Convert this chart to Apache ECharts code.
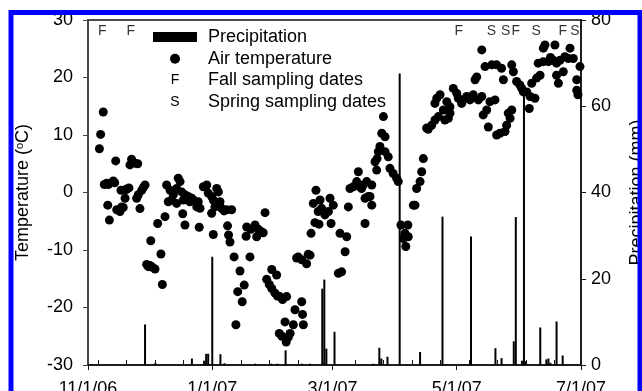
<!DOCTYPE html>
<html>
<head>
<meta charset="utf-8">
<script src="https://cdn.jsdelivr.net/npm/echarts@6/dist/echarts.min.js"></script>
<style>
  html, body { margin: 0; padding: 0; background: #fff; }
  #chart { width: 642px; height: 391px; }
</style>
</head>
<body>
<div id="chart"></div>
<script>
// x axis is in days since 11/1/06
const tickDays = [0, 61, 120, 181, 242];
const tickLabels = ['11/1/06', '1/1/07', '3/1/07', '5/1/07', '7/1/07'];
const minorTickDays = [5, 19, 33, 47, 61, 75, 89, 103, 117, 131, 145, 159, 173, 187, 201, 215, 229];

// daily precipitation (mm)
const precipDays = [28, 33, 51, 57, 58, 59, 61, 65, 67, 82, 90, 93, 97, 105, 109, 115, 116, 117, 121,
  140, 143, 144, 147, 153, 163, 174, 188, 200, 203, 209, 210, 213, 214, 215, 222, 225, 226, 227, 230, 233];
const precipMm = [9.4, 0.4, 1.5, 1.0, 2.6, 2.6, 25.1, 2.5, 0.4, 0.3, 0.3, 0.3, 3.4, 0.3, 0.3, 17.7, 19.8, 3.8, 7.7,
  0.3, 4.0, 1.5, 1.9, 67.6, 3.0, 34.4, 29.8, 3.9, 1.6, 5.5, 34.3, 1.0, 62.6, 0.9, 8.7, 1.3, 1.5, 0.5, 10.1, 2.2];

// air temperature (deg C), [day, value]
const airTemp = [
  [5.6, 7.6], [6.2, 10.1], [7.5, 14.0], [8.0, 1.4], [9.2, 1.6], [10.0, 1.4], [9.7, -2.2], [10.5, -4.8],
  [12.4, 2.0], [13.1, 1.7], [13.6, 5.5], [14.1, -3.0], [15.7, -3.3], [16.5, -2.5], [17.3, -2.6], [18.2, -1.0],
  [16.2, 0.4], [18.7, 0.5], [19.0, 0.6], [20.1, 0.8], [20.6, 4.8], [21.4, 5.8], [23.1, 5.1], [24.4, 5.0],
  [23.9, -1.0], [24.7, -0.4], [25.5, -2.8], [26.4, 0.4], [27.2, 0.9], [28.0, 1.3], [28.8, -12.5], [29.6, -12.9],
  [30.4, -12.7], [30.8, -8.4], [31.6, -13.0], [32.9, -13.3], [34.2, -5.4], [35.8, -10.7], [36.5, -16.0],
  [37.8, -4.2], [38.6, 1.3], [39.4, -1.6],
  [40.3, 0.4], [41.0, -1.3], [41.9, -0.4], [43.5, 0.7], [44.3, 2.5], [45.2, 1.9], [43.5, -1.9], [46.0, 0.1],
  [46.8, -1.3], [46.5, -3.7], [47.6, -0.4], [47.6, -5.65], [49.2, -0.7], [50.0, -1.6], [50.9, -1.0], [51.7, -1.3],
  [53.4, -2.5], [54.1, -1.6], [55.0, -2.75], [54.6, -6.05], [56.6, 1.0], [58.3, 1.3], [59.0, -0.1], [60.7, -0.7],
  [61.5, -1.3], [62.3, -2.5], [60.7, -3.6], [61.5, -7.3], [63.2, 0.7], [64.0, 0.1], [64.8, -1.6], [65.6, -2.75],
  [66.8, -3.2], [68.0, -3.0], [68.5, -5.8], [69.0, -7.4], [69.7, -8.6], [70.5, -3.0], [71.7, -11.2], [72.6, -23.0],
  [73.5, -17.25], [74.6, -13.65], [75.7, -19.0], [76.7, -16.1], [77.6, -7.6], [77.9, -6.0],
  [79.5, -11.2], [79.9, -6.4], [82.0, -5.65], [82.8, -7.7], [83.6, -6.4], [85.0, -6.8], [86.0, -7.0], [86.9, -3.5],
  [87.7, -15.1], [89.0, -16.0], [90.2, -16.7], [90.2, -13.4], [91.8, -17.5], [92.6, -14.35], [93.0, -18.0],
  [94.2, -18.1], [95.5, -18.6], [97.5, -18.1], [93.9, -24.5], [95.2, -25.0], [96.7, -22.5], [97.3, -26.0],
  [98.3, -25.2], [99.2, -24.5], [100.8, -23.0], [101.6, -20.4], [102.4, -11.4], [103.2, -11.2], [104.9, -11.7],
  [104.9, -19.0], [105.3, -21.2], [105.7, -23.0], [107.3, -12.4], [108.1, -10.75], [109.0, -10.9], [109.5, -7.1],
  [110.6, -1.9], [111.4, -5.25], [111.9, 0.4], [113.0, -3.3], [113.4, -5.5], [113.9, -1.3], [114.7, -2.75],
  [116.3, -3.9],
  [118.0, -3.3], [118.8, -1.0], [119.3, -5.4], [120.4, -2.2], [122.9, -14.05], [123.7, -7.1], [124.5, -13.8],
  [126.2, -10.3], [127.0, -7.7], [127.8, -2.5], [128.6, 0.7], [130.2, 1.0], [131.9, 1.9], [132.7, 3.6],
  [133.5, 1.0], [134.3, 0.7], [135.1, 1.3], [136.0, -1.0], [136.0, -5.4], [136.8, 1.9], [137.6, -0.7],
  [138.4, -0.7], [139.3, -2.2], [139.3, 1.3], [140.9, 5.35], [141.7, 3.9], [141.9, 5.9], [142.5, 7.1],
  [143.3, 8.0], [144.2, 10.3], [145.0, 13.2], [145.8, 9.7], [145.8, 7.1], [147.4, 6.2], [148.2, 4.2],
  [149.8, 3.3], [151.5, 2.5], [152.3, 1.9], [153.6, -5.65], [154.8, -8.0], [155.6, -7.1], [156.0, -9.4],
  [157.0, -5.65], [157.2, -7.7], [159.7, -2.2],
  [160.5, -2.2], [161.3, 0.7], [163.0, 1.9], [163.8, 3.6], [164.6, 5.9], [166.2, 11.2], [167.0, 11.0],
  [168.7, 11.7], [170.3, 12.6], [170.3, 15.5], [171.2, 16.4], [172.0, 13.2], [172.8, 17.0], [174.4, 14.35],
  [175.2, 12.6], [176.1, 15.8], [176.9, 12.9], [177.7, 13.8], [177.7, 14.9], [179.3, 18.1], [181.0, 17.25],
  [181.8, 16.4], [183.4, 15.5], [184.2, 16.1], [185.9, 16.7], [187.5, 16.1], [189.1, 17.0], [190.0, 19.6],
  [190.8, 20.1], [191.6, 16.1], [193.3, 16.7], [193.3, 24.8], [194.0, 13.5], [194.9, 21.9], [195.7, 14.35],
  [196.5, 11.4], [197.3, 15.8], [198.2, 22.2], [199.8, 16.1], [200.6, 22.2], [200.6, 10.0], [202.2, 10.3],
  [203.0, 21.6], [203.9, 19.6], [204.7, 10.6], [205.5, 11.7], [206.3, 13.8], [207.2, 12.9], [208.0, 14.35],
  [208.0, 22.2], [208.8, 21.0],
  [210.4, 19.3], [212.0, 18.7], [212.9, 18.1], [213.7, 17.5], [215.4, 17.5], [216.6, 14.6], [217.0, 16.7],
  [217.8, 19.0], [219.4, 16.4], [220.2, 19.9], [221.0, 22.5], [221.9, 20.4], [223.5, 22.75], [223.5, 25.1],
  [224.3, 25.65], [226.0, 22.75], [227.0, 23.5], [228.4, 23.0], [229.2, 25.65], [230.0, 22.5], [230.0, 20.4],
  [230.9, 19.0], [231.7, 23.0], [233.3, 21.0], [234.1, 23.6], [235.8, 23.3], [236.6, 25.1], [238.2, 23.3],
  [239.9, 19.6], [239.9, 17.8], [240.5, 17.0], [241.5, 21.9]
];

// sampling dates, drawn as letters along the top
const fallDays = [7, 21, 182, 210, 233];
const springDays = [198, 205, 220, 239];
const markerLevel = 28;

const FONT = '"Liberation Sans", Arial, sans-serif';
const chart = echarts.init(document.getElementById('chart'));

const letterSeries = (name, days, letter) => ({
    name: name,
    type: 'scatter',
    xAxisIndex: 0,
    yAxisIndex: 0,
    symbol: 'circle',
    symbolSize: 1,
    itemStyle: {color: 'rgba(0,0,0,0)'},
    label: {show: true, position: 'inside', formatter: letter, fontSize: 14, color: '#000', fontFamily: FONT},
    data: days.map(d => [d, markerLevel]),
    z: 3
});

const option = {
    animation: false,
    textStyle: {fontFamily: FONT, color: '#000'},
    grid: {
        left: 88, right: 61, top: 20, bottom: 26,
        outerBoundsMode: 'none', containLabel: false,
        show: true, borderColor: '#111', borderWidth: 1.5
    },
    legend: {
        left: 153, top: 28, orient: 'vertical', padding: 0,
        itemWidth: 44, itemHeight: 10, itemGap: 3.7,
        selectedMode: false,
        textStyle: {fontSize: 18, color: '#000', fontFamily: FONT, lineHeight: 18, padding: [0, 0, 0, 6]},
        data: [
            {name: 'Precipitation', icon: 'rect'},
            {name: 'Air temperature', icon: 'circle'},
            {name: 'Fall sampling dates', icon: 'circle'},
            {name: 'Spring sampling dates', icon: 'circle'}
        ]
    },
    xAxis: [
        {
            type: 'value', min: 0, max: 242,
            axisLine: {onZero: false, lineStyle: {color: '#111', width: 1.5}},
            axisTick: {customValues: tickDays, length: 5, lineStyle: {color: '#111'}},
            axisLabel: {
                customValues: tickDays, fontSize: 18, color: '#000', margin: 15,
                formatter: v => tickLabels[tickDays.indexOf(v)] || ''
            },
            splitLine: {show: false}
        },
        {
            type: 'value', min: 0, max: 242, position: 'bottom',
            axisLine: {show: false, onZero: false},
            axisTick: {inside: true, customValues: minorTickDays, length: 5, lineStyle: {color: '#111'}},
            axisLabel: {show: false},
            splitLine: {show: false}
        }
    ],
    yAxis: [
        {
            type: 'value', min: -30, max: 30, interval: 10,
            name: 'Temperature ({sup|o}C)', nameLocation: 'middle', nameGap: 55, nameRotate: 90,
            nameTextStyle: {fontSize: 18, color: '#000', rich: {sup: {fontSize: 11, padding: [0, 0, 8, 0]}}},
            axisLine: {show: true, onZero: false, lineStyle: {color: '#444', width: 1.5}},
            axisTick: {length: 5, lineStyle: {color: '#444'}},
            axisLabel: {fontSize: 18, color: '#000', margin: 15},
            splitLine: {show: false}
        },
        {
            type: 'value', min: 0, max: 80, interval: 20, position: 'right',
            name: 'Precipitation (mm)', nameLocation: 'middle', nameGap: 47, nameRotate: 90,
            nameTextStyle: {fontSize: 18, color: '#000'},
            axisLine: {show: true, onZero: false, lineStyle: {color: '#111', width: 1.5}},
            axisTick: {length: 5, lineStyle: {color: '#111'}},
            axisLabel: {fontSize: 18, color: '#000', margin: 10},
            splitLine: {show: false}
        }
    ],
    graphic: [
        {type: 'text', x: 175, y: 80.4, z: 10, style: {text: 'F', fontSize: 14, fontFamily: FONT, fill: '#000', align: 'center', verticalAlign: 'middle'}},
        {type: 'text', x: 175, y: 102.1, z: 10, style: {text: 'S', fontSize: 14, fontFamily: FONT, fill: '#000', align: 'center', verticalAlign: 'middle'}},
        // blue frame around the figure
        {type: 'rect', z: 100, shape: {x: 11, y: 12.5, width: 629, height: 420}, style: {fill: 'transparent', stroke: '#0000ff', lineWidth: 5}}
    ],
    series: [
        {
            name: 'Precipitation',
            type: 'bar',
            xAxisIndex: 0,
            yAxisIndex: 1,
            barWidth: 2,
            itemStyle: {color: '#000'},
            data: precipDays.map((d, i) => [d, precipMm[i]]),
            z: 1
        },
        {
            name: 'Air temperature',
            type: 'scatter',
            xAxisIndex: 0,
            yAxisIndex: 0,
            symbolSize: 9,
            itemStyle: {color: '#000', opacity: 1},
            data: airTemp,
            z: 2
        },
        letterSeries('Fall sampling dates', fallDays, 'F'),
        letterSeries('Spring sampling dates', springDays, 'S')
    ]
};

chart.setOption(option);
</script>
</body>
</html>
